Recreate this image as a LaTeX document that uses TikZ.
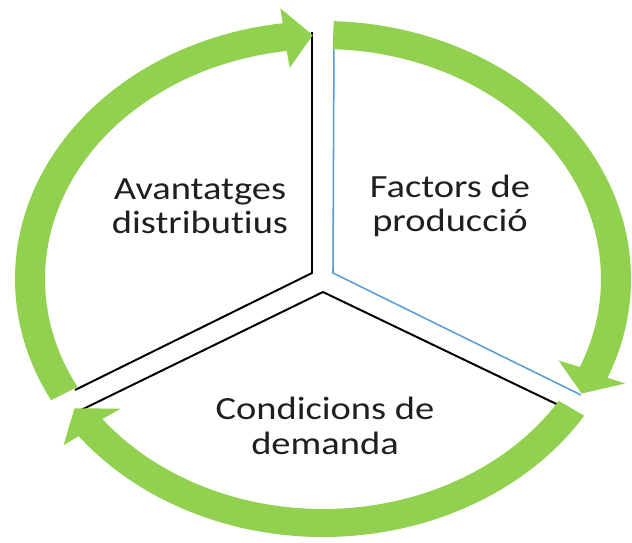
\documentclass[tikz,border=0pt]{standalone}
\usepackage{fontspec}
\setmainfont{Carlito}[FakeStretch=1.19,Ligatures=NoCommon]
\usetikzlibrary{calc}
\definecolor{ringgreen}{RGB}{146,208,80}
\definecolor{lineblue}{RGB}{91,155,213}

\begin{document}
\begin{tikzpicture}[x=0.025cm,y=0.025cm,
	sectorline/.style={line width=1.4pt,black},
	sectortext/.style={align=center,font=\fontsize{23}{24.5}\selectfont,text=black!88}
	]
	\useasboundingbox (-323,-263) rectangle (309,279);

	% sector corners and ends
	\coordinate (l0) at (-11,6);
	\coordinate (l1) at (-11,247);
	\coordinate (l2) at (-248,-111);
	\coordinate (r0) at (10,6);
	\coordinate (r1) at (11,244);
	\coordinate (r2) at (258,-116);
	\coordinate (b0) at (0,-13);
	\coordinate (b1) at (-246,-133);
	\coordinate (b2) at (248,-132);

	\draw[sectorline,line join=miter] (l1) -- (l0) -- (l2);
	\draw[sectorline,lineblue,line width=1.1pt] (r1) -- (r0) -- (r2);
	\draw[sectorline] (b1) -- (b0) -- (b2);

	% green arrows round the ring
	\foreach \s in {88,328,208}{
		\pgfmathsetmacro{\b}{\s-110.5}
		\pgfmathsetmacro{\t}{\s-116}
		\fill[ringgreen] (\s:308 and 258) arc[start angle=\s,end angle=\b,x radius=308,y radius=258]
			-- (\b:327 and 273) -- (\t:293 and 244) -- (\b:255 and 213)
			-- (\b:278 and 230) arc[start angle=\b,end angle=\s,x radius=278,y radius=230] -- cycle;
	}

	\node[sectortext] (adv) at (-123,73) {Avantatges\\distributius};
	\node[sectortext] (fac) at (127,73) {Factors de\\producció};
	\node[sectortext] (con) at (2,-147) {Condicions de\\demanda};

\end{tikzpicture}
\end{document}
